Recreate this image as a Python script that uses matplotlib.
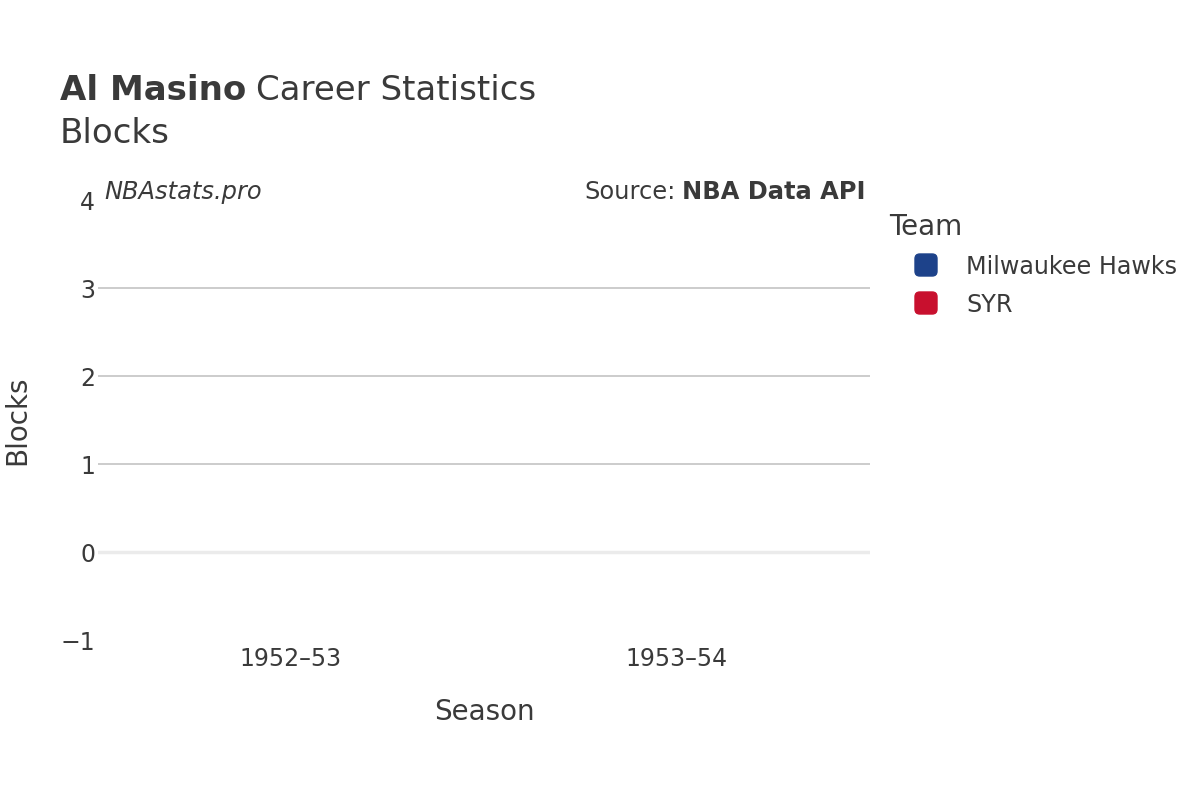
import matplotlib.pyplot as plt
from matplotlib.patches import FancyBboxPatch

seasons = ['1952–53', '1953–54']
teams = ['Milwaukee Hawks', 'SYR']
team_colors = ['#1d428a', '#c8102e']
blocks_mil = [0, 0]
blocks_syr = [0, 0]
yticks = [-1, 0, 1, 2, 3, 4]

txt = '#3a3a3a'
plt.rcParams['font.family'] = 'DejaVu Sans'

fig = plt.figure(figsize=(12, 8), dpi=100)
ax = fig.add_axes([98 / 1200, 0.2, (870 - 98) / 1200, 0.55])

x = list(range(len(seasons)))
ax.bar([i - 0.2 for i in x], blocks_mil, width=0.4, color=team_colors[0])
ax.bar([i + 0.2 for i in x], blocks_syr, width=0.4, color=team_colors[1])

ax.set_xlim(-0.5, len(seasons) - 0.5)
ax.set_ylim(-1, 4)
ax.set_yticks(yticks)
ax.set_yticklabels(['\u22121' if v < 0 else str(v) for v in yticks])
ax.set_xticks(x)
ax.set_xticklabels(seasons)
ax.tick_params(axis='both', length=0, labelsize=17, labelcolor=txt)
ax.tick_params(axis='y', pad=2)
ax.tick_params(axis='x', pad=5)
for lbl in ax.get_yticklabels():
    lbl.set_va('center_baseline')
for s in ax.spines.values():
    s.set_visible(False)

# gridlines, zero line lighter and thicker
for v in yticks:
    if v in (-1, 4):
        continue
    if v == 0:
        ax.axhline(v, color='#ebebeb', lw=2.5, zorder=0)
    else:
        ax.axhline(v, color='#c4c4c4', lw=1.2, zorder=0)

fig.text(484 / 1200, 1 - 712 / 800, 'Season', fontsize=20, color=txt,
         ha='center', va='center')
fig.text(17 / 1200, 1 - 420 / 800, 'Blocks', rotation=90, fontsize=20,
         color=txt, ha='center', va='center')

# titles
t = fig.text(60 / 1200, 1 - 100 / 800, 'Al Masino', fontsize=24.5,
             fontweight='bold', color=txt, va='baseline')
fig.canvas.draw()
bb = t.get_window_extent()
fig.text(bb.x1 / 1200 + 0.008, 1 - 100 / 800, 'Career Statistics', fontsize=24.5,
         color=txt, va='baseline')
fig.text(60 / 1200, 1 - 143 / 800, 'Blocks', fontsize=24.5, color=txt,
         va='baseline')

fig.text(104 / 1200, 1 - 192 / 800, 'NBAstats.pro', fontsize=17.4,
         style='italic', color=txt, va='center')
s2 = fig.text(866 / 1200, 1 - 192 / 800, 'NBA Data API', fontsize=17.4,
              fontweight='bold', color=txt, va='center', ha='right')
fig.canvas.draw()
bb2 = s2.get_window_extent()
fig.text(bb2.x0 / 1200 - 0.006, 1 - 192 / 800, 'Source:', fontsize=17.4,
         color=txt, va='center', ha='right')

# legend
fig.text(889 / 1200, 1 - 227 / 800, 'Team', fontsize=20, color=txt,
         va='center')
for k, (name, col) in enumerate(zip(teams, team_colors)):
    yc = 265 + k * 38
    box = FancyBboxPatch((915 / 1200, 1 - (yc + 11) / 800), 22 / 1200, 22 / 800,
                         boxstyle='round,pad=0,rounding_size=0.004',
                         transform=fig.transFigure, color=col,
                         mutation_aspect=1.5)
    fig.add_artist(box)
    fig.text(966 / 1200, 1 - (yc + 2) / 800, name, fontsize=17.2, color=txt,
             va='center')

fig.savefig('out.png', dpi=100)
